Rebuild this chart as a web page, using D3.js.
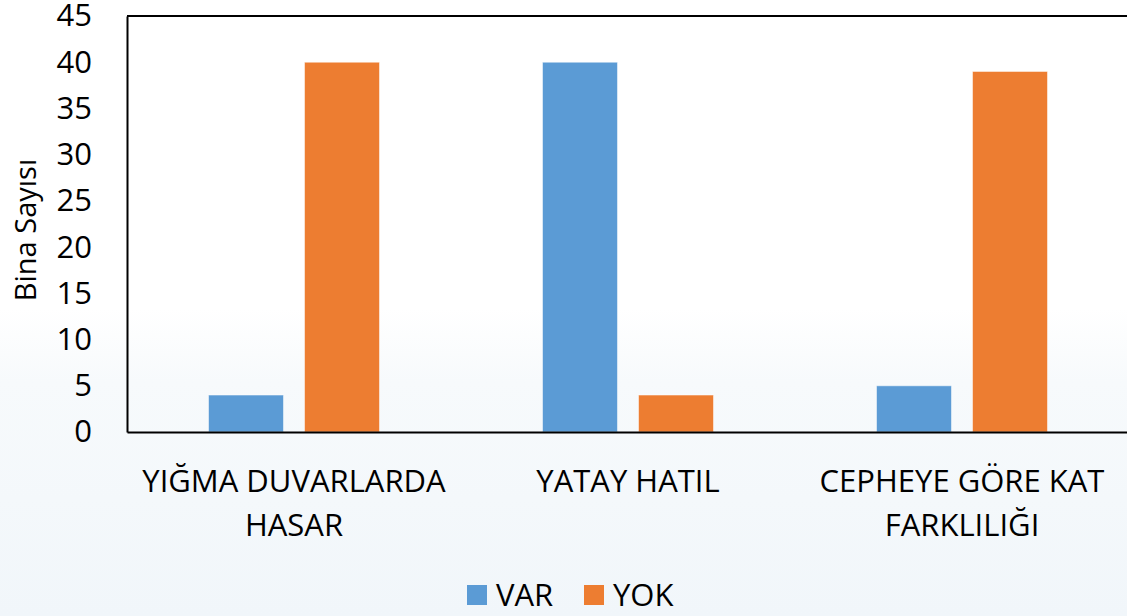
<!DOCTYPE html>
<html>
<head>
<meta charset="utf-8">
<script src="https://cdn.jsdelivr.net/npm/d3@7"></script>
<style>
  body { margin: 0; background: #fff; }
  svg text { font-family: "Open Sans", "Noto Sans", sans-serif; fill: #000; }
</style>
</head>
<body>
<div id="chart"></div>
<script>
// chart data
const CATEGORIES = [["YIĞMA DUVARLARDA", "HASAR"], ["YATAY HATIL"], ["CEPHEYE GÖRE KAT", "FARKLILIĞI"]];
const SERIES = ["VAR", "YOK"];
const VAR_VALUES = [4, 40, 5];
const YOK_VALUES = [40, 4, 39];
const Y_TICKS = [0, 5, 10, 15, 20, 25, 30, 35, 40, 45];
const COLORS = ["#5B9BD5", "#ED7D31"];

const FRAME_WIDTH = 1127;
const FRAME_HEIGHT = 616;
const MARGINS = {left: 127, right: -2, top: 16, bottom: 184};

const VIS_WIDTH = FRAME_WIDTH - MARGINS.left - MARGINS.right;
const VIS_HEIGHT = FRAME_HEIGHT - MARGINS.top - MARGINS.bottom;

const svg = d3.select('#chart')
  .append('svg')
    .attr('width', FRAME_WIDTH)
    .attr('height', FRAME_HEIGHT);

// faint blue wash behind the lower half
const defs = svg.append('defs');
const grad = defs.append('linearGradient')
  .attr('id', 'bg')
  .attr('x1', 0).attr('y1', 0).attr('x2', 0).attr('y2', 1);
grad.append('stop').attr('offset', '0.5').attr('stop-color', '#ffffff');
grad.append('stop').attr('offset', '0.62').attr('stop-color', '#f7fafc');
grad.append('stop').attr('offset', '1').attr('stop-color', '#f1f6fa');

svg.append('rect')
  .attr('width', FRAME_WIDTH)
  .attr('height', FRAME_HEIGHT)
  .attr('fill', 'url(#bg)');

// scales
const xscale = d3.scaleBand()
  .domain(d3.range(CATEGORIES.length))
  .range([0, VIS_WIDTH]);

const inner = d3.scaleBand()
  .domain(SERIES)
  .range([0, xscale.bandwidth()])
  .paddingInner(0.219)
  .paddingOuter(0.849);

const yscale = d3.scaleLinear()
  .domain([0, 45])
  .range([VIS_HEIGHT, 0]);

const g = svg.append('g')
  .attr('transform', 'translate(' + MARGINS.left + ',' + MARGINS.top + ')');

// bars
const rows = CATEGORIES.map((c, i) => ({i: i, vals: [VAR_VALUES[i], YOK_VALUES[i]]}));

g.selectAll('.grp')
  .data(rows)
  .enter()
  .append('g')
    .attr('transform', (d) => 'translate(' + xscale(d.i) + ',0)')
  .selectAll('rect')
  .data((d) => d.vals.map((v, k) => ({s: SERIES[k], v: v, k: k})))
  .enter()
  .append('rect')
    .attr('x', (d) => inner(d.s))
    .attr('y', (d) => yscale(d.v))
    .attr('width', inner.bandwidth())
    .attr('height', (d) => VIS_HEIGHT - yscale(d.v))
    .attr('fill', (d) => COLORS[d.k])
    .attr('stroke', '#ffffff')
    .attr('stroke-opacity', 0.5)
    .attr('stroke-width', 1);

// frame lines
g.append('line')
  .attr('x1', 0).attr('x2', VIS_WIDTH)
  .attr('y1', 0).attr('y2', 0)
  .attr('stroke', '#000').attr('stroke-width', 2);

// y axis
const yAxis = g.append('g')
  .call(d3.axisLeft(yscale).tickValues(Y_TICKS).tickSize(0).tickPadding(35));
yAxis.select('.domain').attr('stroke', '#000').attr('stroke-width', 2);
yAxis.selectAll('text')
  .attr('font-size', '31px')
  .attr('font-family', '"Open Sans", sans-serif');

// x axis
const xAxis = g.append('g')
  .attr('transform', 'translate(0,' + VIS_HEIGHT + ')')
  .call(d3.axisBottom(xscale).tickSize(0).tickFormat(''));
xAxis.select('.domain').attr('stroke', '#000').attr('stroke-width', 2);

// category labels
g.selectAll('.cat')
  .data(CATEGORIES)
  .enter()
  .append('text')
    .attr('class', 'cat')
    .attr('x', (d, i) => xscale(i) + xscale.bandwidth() / 2)
    .attr('y', VIS_HEIGHT + 60)
    .attr('text-anchor', 'middle')
    .attr('font-size', '31px')
    .each(function(d) {
      d3.select(this).selectAll('tspan')
        .data(d)
        .enter()
        .append('tspan')
          .attr('x', d3.select(this).attr('x'))
          .attr('dy', (t, j) => j === 0 ? 0 : 44)
          .text((t) => t);
    });

// y axis title
svg.append('text')
  .attr('transform', 'translate(36,' + (MARGINS.top + VIS_HEIGHT / 2 + 6) + ') rotate(-90)')
  .attr('text-anchor', 'middle')
  .attr('font-size', '29px')
  .text('Bina Sayısı');

// legend
const legend = svg.append('g')
  .attr('transform', 'translate(467,585)');

const items = legend.selectAll('g')
  .data(SERIES)
  .enter()
  .append('g')
    .attr('transform', (d, i) => 'translate(' + (i * 117) + ',0)');

items.append('rect')
  .attr('width', 20)
  .attr('height', 20)
  .attr('fill', (d, i) => COLORS[i]);

items.append('text')
  .attr('x', 29)
  .attr('y', 21)
  .attr('font-size', '31px')
  .text((d) => d);
</script>
</body>
</html>
